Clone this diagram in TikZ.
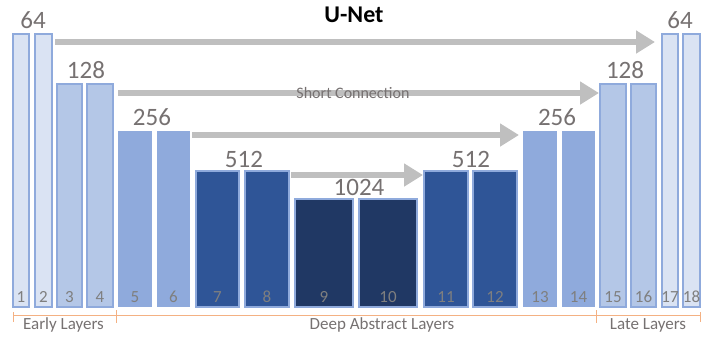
\documentclass[tikz,border=0pt]{standalone}
\usepackage{fontspec}
\setmainfont{Carlito}
\usetikzlibrary{arrows.meta,calc}
\definecolor{cL1}{HTML}{DAE3F3}
\definecolor{cL2}{HTML}{B4C7E7}
\definecolor{cL3}{HTML}{8FAADC}
\definecolor{cL4}{HTML}{2F5597}
\definecolor{cL5}{HTML}{203864}
\definecolor{edgeblue}{HTML}{8FAADC}
\definecolor{arrgray}{HTML}{BFBFBF}
\definecolor{txtgray}{HTML}{767171}
\definecolor{numgray}{HTML}{7F7F7F}
\definecolor{brkorange}{HTML}{F4B183}
\tikzset{
  barbase/.style={anchor=north west, inner sep=0pt, outer sep=0pt},
  lvA/.style={barbase, fill=cL1, draw=edgeblue, line width=1.5pt},
  lvB/.style={barbase, fill=cL2, draw=edgeblue, line width=1.5pt},
  lvC/.style={barbase, fill=cL3, draw=none},
  lvD/.style={barbase, fill=cL4, draw=edgeblue, line width=1.2pt},
  lvE/.style={barbase, fill=cL5, draw=edgeblue, line width=1.2pt},
  idx/.style={anchor=base, text=numgray, font=\fontsize{17}{20}\selectfont, inner sep=0pt},
  chan/.style={anchor=base, text=txtgray, font=\fontsize{25}{30}\selectfont, inner sep=0pt},
  conn/.style={draw=arrgray, line width=6.5pt, -{Triangle[length=19pt,width=22pt]}},
  brk/.style={draw=brkorange, line width=1pt},
  grp/.style={anchor=base, text=txtgray, font=\fontsize{17}{20}\selectfont, inner sep=0pt},
}
\newcommand\mkbar[6]{%
  \node[#5, minimum width=#3pt-#2pt, minimum height=307pt-#4pt] (#1) at (#2,#4) {};
  \node[idx] (#1n) at ($(#1.south)+(0,-5)$) {#6};
}
\begin{document}
\begin{tikzpicture}[x=1pt,y=-1pt]
\useasboundingbox (0,0) rectangle (720,338);
% bars
\mkbar{b1}{13}{29}{34}{lvA}{1}
\mkbar{b2}{35}{52}{34}{lvA}{2}
\mkbar{b3}{57}{82}{84}{lvB}{3}
\mkbar{b4}{87}{113}{84}{lvB}{4}
\mkbar{b5}{118}{152}{131}{lvC}{5}
\mkbar{b6}{157}{190}{131}{lvC}{6}
\mkbar{b7}{196}{239}{171}{lvD}{7}
\mkbar{b8}{245}{289}{171}{lvD}{8}
\mkbar{b9}{295}{353}{199}{lvE}{9}
\mkbar{b10}{359}{417}{199}{lvE}{10}
\mkbar{b11}{424}{468}{171}{lvD}{11}
\mkbar{b12}{473}{517}{171}{lvD}{12}
\mkbar{b13}{523}{557}{131}{lvC}{13}
\mkbar{b14}{562}{595}{131}{lvC}{14}
\mkbar{b15}{600}{626}{84}{lvB}{15}
\mkbar{b16}{631}{656}{84}{lvB}{16}
\mkbar{b17}{662}{678}{34}{lvA}{17}
\mkbar{b18}{683}{700}{34}{lvA}{18}
% channel labels
\node[chan] (c1) at (33,28) {64};
\node[chan] (c2) at (86,78) {128};
\node[chan] (c3) at (152,125) {256};
\node[chan] (c4) at (244,167) {512};
\node[chan] (c5) at (359,195) {1024};
\node[chan] (c6) at (471,167) {512};
\node[chan] (c7) at (557,125) {256};
\node[chan] (c8) at (625,78) {128};
\node[chan] (c9) at (680,28) {64};
% title
\node[anchor=base, font=\bfseries\fontsize{24}{28}\selectfont, inner sep=0pt] (title) at (354,22) {U-Net};
% skip connections
\draw[conn] ($(b2.north east)+(3,8)$) -- ($(b17.north west)+(-7,8)$);
\draw[conn] ($(b4.north east)+(5,9)$) -- ($(b15.north west)+(-1,9)$);
\draw[conn] ($(b6.north east)+(2,4)$) -- ($(b13.north west)+(-4,4)$);
\draw[conn] ($(b8.north east)+(2,4)$) -- ($(b11.north west)+(-1,4)$);
\node[text=txtgray, font=\fontsize{16}{19}\selectfont, inner sep=0pt] (sc) at (353,93) {Short Connection};
% group brackets
\coordinate (g0) at (13,315);
\coordinate (g1) at (116,315);
\coordinate (g2) at (596,315);
\coordinate (g3) at (700,315);
\draw[brk] (g0) -- (g3);
\draw[brk] ($(g0)+(0,-3)$) -- ($(g0)+(0,7)$);
\draw[brk] ($(g1)+(0,-5)$) -- ($(g1)+(0,8)$);
\draw[brk] ($(g2)+(0,-5)$) -- ($(g2)+(0,8)$);
\draw[brk] ($(g3)+(0,-3)$) -- ($(g3)+(0,7)$);
\node[grp] (early) at (63.5,329) {Early Layers};
\node[grp] (deep) at (382,329) {Deep Abstract Layers};
\node[grp] (late) at (648,329) {Late Layers};
\end{tikzpicture}
\end{document}
